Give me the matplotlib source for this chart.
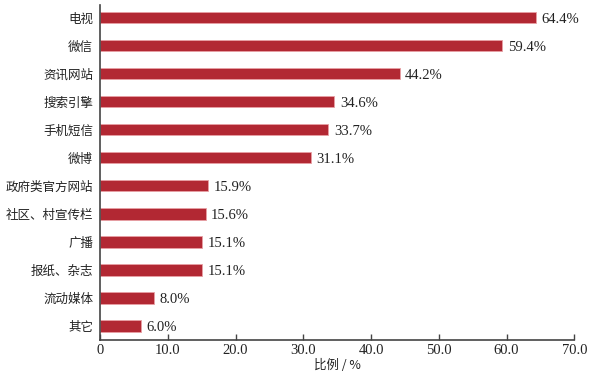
import numpy as np
import matplotlib.pyplot as plt

categories = ['电视', '微信', '资讯网站', '搜索引擎', '手机短信', '微博', '政府类官方网站',
              '社区、村宣传栏', '广播', '报纸、杂志', '流动媒体', '其它']
values = [64.4, 59.4, 44.2, 34.6, 33.7, 31.1, 15.9, 15.6, 15.1, 15.1, 8.0, 6.0]
xticks = [0, 10, 20, 30, 40, 50, 60, 70]
xticklabels = ['0', '10.0', '20.0', '30.0', '40.0', '50.0', '60.0', '70.0']

cjk = ['Noto Sans CJK SC', 'DejaVu Sans']
num = ['Liberation Serif', 'DejaVu Serif']

fig = plt.figure(figsize=(5.89, 3.72), dpi=100)
ax = fig.add_axes([0.170, 0.086, 0.805, 0.901])

y = np.arange(len(categories))
ax.barh(y, values, height=0.4, color='#b22833', edgecolor='#e8a0a4', linewidth=0.6)
for yi, v in zip(y, values):
    ax.text(v + 0.8, yi + 0.05, f'{v:.1f}%', va='center', ha='left', fontsize=10.5,
            family=num, color='#222222')

ax.set_ylim(11.5, -0.46)
ax.set_xlim(0, 70)
ax.set_yticks(y)
ax.set_yticklabels(categories, family=cjk, fontsize=9, color='#222222')
ax.tick_params(axis='y', length=0, pad=5)
ax.set_xticks(xticks)
ax.set_xticklabels(xticklabels, family=num, fontsize=10.5, color='#222222')
ax.tick_params(axis='x', direction='in', length=4, width=1, pad=3, color='#444444')
ax.set_xlabel('比例 / %', family=cjk, fontsize=9, color='#222222', labelpad=1)

for s in ['top', 'right']:
    ax.spines[s].set_visible(False)
for s in ['left', 'bottom']:
    ax.spines[s].set_linewidth(1.2)
    ax.spines[s].set_color('#444444')

fig.savefig('out.png', dpi=100)
